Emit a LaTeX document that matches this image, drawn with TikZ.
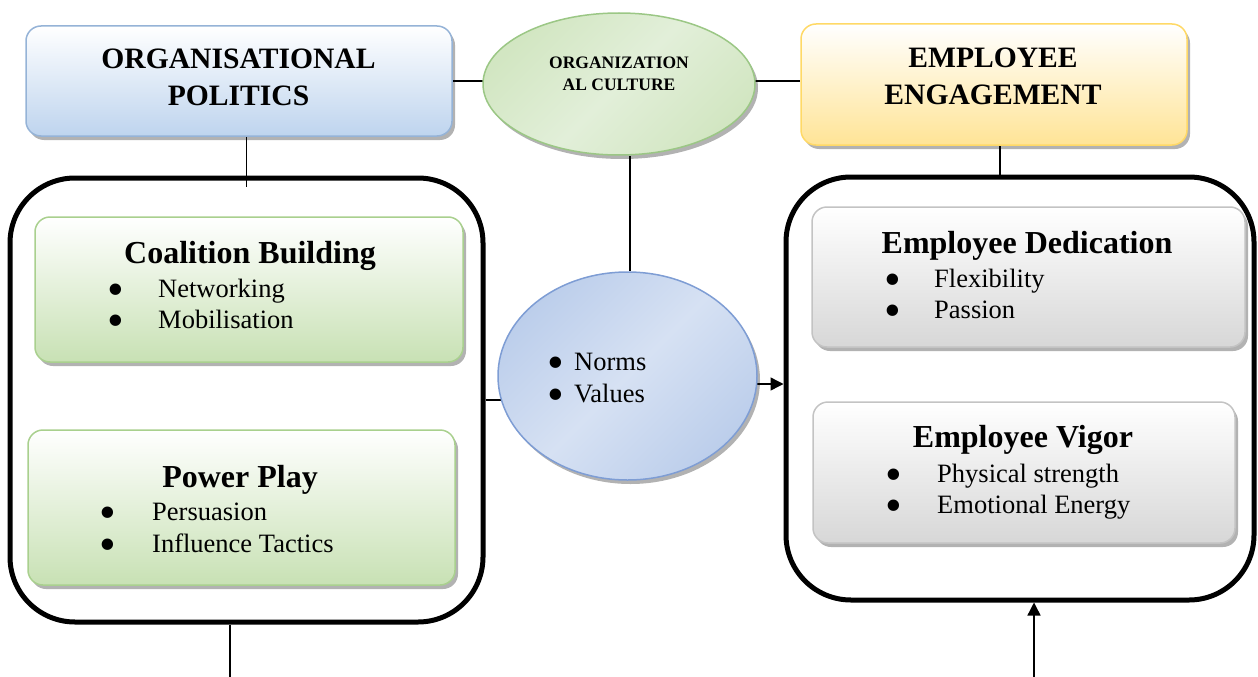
\documentclass[tikz,border=0pt]{standalone}
\usepackage{fontspec}
\setmainfont{Liberation Serif}
\usetikzlibrary{shapes.geometric,arrows.meta,shadows,calc,backgrounds}

\definecolor{opline}{RGB}{149,179,215}
\definecolor{opfill}{RGB}{190,212,238}
\definecolor{eeline}{RGB}{255,217,102}
\definecolor{eefill}{RGB}{255,228,150}
\definecolor{grline}{RGB}{169,208,142}
\definecolor{grfill}{RGB}{200,225,180}
\definecolor{gyline}{RGB}{195,195,195}
\definecolor{gyfill}{RGB}{215,215,215}
\definecolor{culline}{RGB}{155,199,133}
\definecolor{culfill}{RGB}{210,230,194}
\definecolor{cullight}{RGB}{226,239,217}
\definecolor{nvline}{RGB}{126,157,212}
\definecolor{nvfill}{RGB}{188,206,235}
\definecolor{nvlight}{RGB}{214,225,243}

% large bullet centred on the node's x, then a fixed gap before the item text
\newcommand\bulletgap[1]{\makebox[#1pt][l]{\makebox[0pt]{\smash{\raisebox{-8.5pt}{\scalebox{1.8}{\textbullet}}}}}}

\tikzset{
  softshadow/.style={drop shadow={shadow xshift=3pt,shadow yshift=-4pt,fill=black,opacity=0.3}},
  card/.style={rectangle,rounded corners=15pt,inner sep=0pt,line width=1.5pt,softshadow},
  group/.style={rectangle,rounded corners=65pt,draw=black,line width=5pt,inner sep=0pt},
  oval/.style={ellipse,inner sep=0pt,line width=1.5pt,softshadow},
  headtext/.style={anchor=base,inner sep=0pt,font=\fontsize{29.6}{35}\selectfont\bfseries},
  titletext/.style={anchor=base,inner sep=0pt,font=\fontsize{32}{38}\selectfont\bfseries},
  itemtext/.style={anchor=base west,inner sep=0pt,font=\fontsize{26.5}{31}\selectfont},
  smalltext/.style={anchor=base,inner sep=0pt,font=\fontsize{17.5}{22}\selectfont\bfseries},
  link/.style={draw=black,line width=1.4pt},
  tip/.style={-{Triangle[length=13pt,width=13pt]}},
}

\begin{document}
\begin{tikzpicture}[x=1pt,y=-1pt]
\useasboundingbox (0,0) rectangle (1258,677);

% header boxes
\node[card,draw=opline,top color=white,bottom color=opfill,minimum width=426pt,minimum height=110pt] (op) at (239,81) {};
\node[card,draw=eeline,top color=white,bottom color=eefill,minimum width=386pt,minimum height=121pt] (ee) at (994,84.5) {};
\node[oval,draw=culline,top color=culfill,bottom color=culfill,middle color=cullight,shading angle=45,minimum width=272pt,minimum height=142pt] (cu) at (619,84) {};

\node[headtext] (op1) at (238.5,69) {ORGANISATIONAL};
\node[headtext] (op2) at (238.5,105) {POLITICS};
\node[headtext] (ee1) at (993,67) {EMPLOYEE};
\node[headtext] (ee2) at (993,104) {ENGAGEMENT};
\node[smalltext] (cu1) at (619,68) {ORGANIZATION};
\node[smalltext] (cu2) at (619,91) {AL CULTURE};

% grouping frames
\node[group,minimum width=473pt,minimum height=444pt] (lb) at (246.5,400) {};
\node[group,minimum width=468pt,minimum height=423pt] (rb) at (1020,388.5) {};

% left group
\node[card,draw=grline,top color=white,bottom color=grfill,minimum width=428pt,minimum height=145pt] (cb) at (249,289.5) {};
\node[titletext] (cbt) at (250,263) {Coalition Building};
\node[itemtext] (cb1) at (116,297) {\bulletgap{42}Networking};
\node[itemtext] (cb2) at (116,328) {\bulletgap{42}Mobilisation};

\node[card,draw=grline,top color=white,bottom color=grfill,minimum width=427pt,minimum height=155pt] (pp) at (241.5,507.5) {};
\node[titletext] (ppt) at (240,487) {Power Play};
\node[itemtext] (pp1) at (108,520) {\bulletgap{44}Persuasion};
\node[itemtext] (pp2) at (108,552) {\bulletgap{44}Influence Tactics};

% right group
\node[card,draw=gyline,top color=white,bottom color=gyfill,minimum width=433pt,minimum height=140pt] (ed) at (1028.5,277) {};
\node[titletext] (edt) at (1027,253) {Employee Dedication};
\node[itemtext] (ed1) at (893,287) {\bulletgap{41}Flexibility};
\node[itemtext] (ed2) at (893,318) {\bulletgap{41}Passion};

\node[card,draw=gyline,top color=white,bottom color=gyfill,minimum width=422pt,minimum height=141pt] (ev) at (1024,472.5) {};
\node[titletext] (evt) at (1023,447) {Employee Vigor};
\node[itemtext] (ev1) at (894,482) {\bulletgap{43}Physical strength};
\node[itemtext] (ev2) at (894,513) {\bulletgap{43}Emotional Energy};

% norms and values
\node[oval,draw=nvline,top color=nvfill,bottom color=nvfill,middle color=nvlight,shading angle=45,minimum width=259pt,minimum height=208pt] (nv) at (627.5,376) {};
\node[itemtext] (nv1) at (556,370) {\bulletgap{18}Norms};
\node[itemtext] (nv2) at (556,402) {\bulletgap{18}Values};

% connectors
\begin{scope}[on background layer]
  \draw[link] (op.east) -- (op.east -| ee.west);
  \draw[link] (op.south -| lb.north) -- ($(lb.north)+(0,11)$);
  \path (ee.south) ++(6,0) coordinate (eedrop);
  \draw[link] (eedrop) -- (eedrop |- rb.north);
  \path (cu.center) ++(11,0) coordinate (cudrop);
  \draw[link] (cudrop |- cu.south) -- (cudrop |- nv.north);
  \draw[link] (lb.east) -- (lb.east -| nv.center);
  \path (nv.center) ++(0,8) coordinate (nvout);
  \draw[link,tip] (nvout) -- (nvout -| rb.west);
  \coordinate (lbfoot) at (230,677);
  \draw[link] (lbfoot |- lb.south) -- (lbfoot);
  \coordinate (rbfoot) at (1034,677);
  \draw[link,tip] (rbfoot) -- (rbfoot |- rb.south);
\end{scope}
\end{tikzpicture}
\end{document}
